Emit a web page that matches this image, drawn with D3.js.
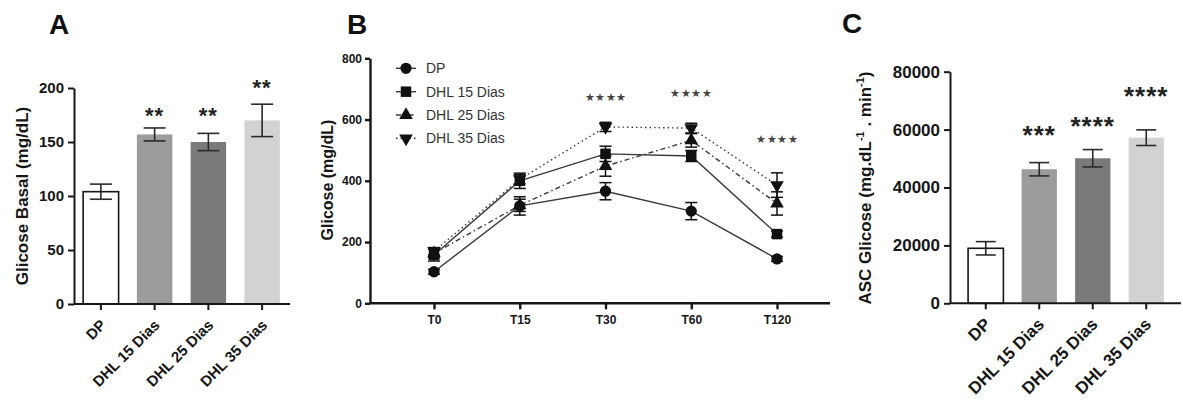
<!DOCTYPE html>
<html><head><meta charset="utf-8">
<script src="https://cdn.jsdelivr.net/npm/d3@7"></script>
<style>body{margin:0;background:#fff} svg{display:block} text{font-family:"Liberation Sans",Arial,sans-serif}</style>
</head><body><svg id="c" width="1183" height="403"></svg>
<script>
// ---------- data ----------
const groups = ["DP", "DHL 15 Dias", "DHL 25 Dias", "DHL 35 Dias"];
const basalMean = [104, 157, 150, 170];
const basalErr = [7, 6, 8, 15];
const basalStars = ["", "**", "**", "**"];
const basalStarLevel = [null, 180, 180, 206];
const basalTicks = [0, 50, 100, 150, 200];

const timePoints = ["T0", "T15", "T30", "T60", "T120"];
const dpCurve = [103, 318, 366, 301, 145];
const dpCurveErr = [8, 30, 28, 28, 8];
const dhl15Curve = [158, 400, 488, 481, 226];
const dhl15CurveErr = [20, 25, 25, 18, 10];
const dhl25Curve = [163, 320, 448, 532, 326];
const dhl25CurveErr = [15, 20, 33, 22, 38];
const dhl35Curve = [170, 405, 576, 572, 386];
const dhl35CurveErr = [12, 15, 15, 16, 40];
const curveStars = ["", "", "★★★★", "★★★★", "★★★★"];
const curveStarLevel = [null, null, 673, 686, 535];
const curveTicks = [0, 200, 400, 600, 800];

const aucMean = [19000, 46300, 50100, 57200];
const aucErr = [2300, 2300, 3000, 2700];
const aucStars = ["", "***", "****", "****"];
const aucStarLevel = [null, 60500, 63500, 73900];
const aucTicks = [0, 20000, 40000, 60000, 80000];

const barColors = ["#ffffff", "#9c9c9c", "#7a7a7a", "#d2d2d2"];

// ---------- helpers ----------
const svg = d3.select("#c");
const INK = "#161616";

function styleAxis(g, fs, sw) {
  g.selectAll("path.domain").attr("stroke", INK).attr("stroke-width", sw);
  g.selectAll(".tick line").attr("stroke", INK).attr("stroke-width", sw);
  g.selectAll(".tick text").attr("fill", INK).attr("font-size", fs)
    .attr("font-weight", "bold").attr("font-family", '"Liberation Sans",Arial,sans-serif');
}

function barPanel(opt) {
  const x = d3.scaleBand().domain(groups).range(opt.xr).paddingInner(0.34).paddingOuter(0.17);
  const y = d3.scaleLinear().domain([0, opt.ticks[opt.ticks.length - 1]]).range(opt.yr);
  const g = svg.append("g");
  g.selectAll("rect.bar").data(groups).join("rect")
    .attr("x", d => x(d)).attr("width", x.bandwidth())
    .attr("y", (d, i) => y(opt.mean[i])).attr("height", (d, i) => y(0) - y(opt.mean[i]))
    .attr("fill", (d, i) => barColors[i])
    .attr("stroke", (d, i) => i === 0 ? INK : "none").attr("stroke-width", 1.6);
  const cx = d => x(d) + x.bandwidth() / 2;
  groups.forEach((d, i) => {
    const lo = y(opt.mean[i] - opt.err[i]), hi = y(opt.mean[i] + opt.err[i]);
    g.append("line").attr("x1", cx(d)).attr("x2", cx(d)).attr("y1", lo).attr("y2", hi)
      .attr("stroke", "#2a2a2a").attr("stroke-width", 1.6);
    [lo, hi].forEach(v => g.append("line").attr("x1", cx(d) - opt.cap).attr("x2", cx(d) + opt.cap)
      .attr("y1", v).attr("y2", v).attr("stroke", "#2a2a2a").attr("stroke-width", 1.6));
    if (opt.stars[i]) {
      g.append("text").attr("x", cx(d)).attr("y", y(opt.starLevel[i]) + opt.starFs * 0.6)
        .attr("text-anchor", "middle").attr("font-size", opt.starFs).attr("font-weight", "bold")
        .attr("letter-spacing", opt.starLs).attr("fill", "#222").text(opt.stars[i]);
    }
  });
  const ya = g.append("g").attr("class", "yaxis").attr("transform", `translate(${opt.yAxisX},0)`)
    .call(d3.axisLeft(y).tickValues(opt.ticks).tickSize(6).tickSizeOuter(0).tickPadding(4)
      .tickFormat(d3.format("d")));
  styleAxis(ya, opt.tickFs, 2);
  const xa = g.append("g").attr("transform", `translate(0,${opt.yr[0]})`)
    .call(d3.axisBottom(x).tickSize(6).tickSizeOuter(0));
  styleAxis(xa, opt.labFs, 2);
  xa.select("path.domain").attr("d", `M${opt.yAxisX},0H${opt.xEnd}`);
  xa.selectAll(".tick text").attr("text-anchor", "end").attr("dy", null).attr("y", null)
    .attr("transform", `translate(${opt.labDx},${opt.labDy}) rotate(-45)`);
  return g;
}

// ---------- Panel A ----------
const gA = barPanel({
  xr: [74, 289], yAxisX: 74, xEnd: 290, yr: [304, 88], ticks: basalTicks, mean: basalMean, err: basalErr,
  stars: basalStars, starLevel: basalStarLevel, starFs: 22, starLs: 1, cap: 11,
  tickFs: 15, labFs: 15, labDx: 6, labDy: 22
});
gA.append("text").attr("transform", "translate(28,196) rotate(-90)").attr("text-anchor", "middle")
  .attr("font-size", 17).attr("font-weight", "bold").attr("fill", INK).text("Glicose Basal (mg/dL)");
svg.append("text").attr("x", 49).attr("y", 34).attr("font-size", 28).attr("font-weight", "bold")
  .attr("fill", "#111").text("A");

// ---------- Panel C ----------
const gC = barPanel({
  xr: [959, 1173], yAxisX: 950, xEnd: 1181, yr: [303.3, 71.7], ticks: aucTicks, mean: aucMean, err: aucErr,
  stars: aucStars, starLevel: aucStarLevel, starFs: 26, starLs: 1, cap: 10,
  tickFs: 17, labFs: 17, labDx: 6, labDy: 22
});
gC.append("text").attr("transform", "translate(871,188) rotate(-90)").attr("text-anchor", "middle")
  .attr("font-size", 17).attr("font-weight", "bold").attr("fill", INK)
  .call(t => {
    t.append("tspan").text("ASC Glicose (mg.dL");
    t.append("tspan").attr("font-size", 11).attr("dy", -7).text("-1");
    t.append("tspan").attr("dy", 7).text(" . min");
    t.append("tspan").attr("font-size", 11).attr("dy", -7).text("-1");
    t.append("tspan").attr("dy", 7).text(")");
  });
svg.append("text").attr("x", 842).attr("y", 33).attr("font-size", 28).attr("font-weight", "bold")
  .attr("fill", "#111").text("C");

// ---------- Panel B ----------
const series = [
  { name: "DP", v: dpCurve, e: dpCurveErr, sym: d3.symbolCircle, size: 100, rot: 0, dash: null },
  { name: "DHL 15 Dias", v: dhl15Curve, e: dhl15CurveErr, sym: d3.symbolSquare, size: 110, rot: 0, dash: null },
  { name: "DHL 25 Dias", v: dhl25Curve, e: dhl25CurveErr, sym: d3.symbolTriangle, size: 80, rot: 0, dash: "5,3,1.5,3" },
  { name: "DHL 35 Dias", v: dhl35Curve, e: dhl35CurveErr, sym: d3.symbolTriangle, size: 80, rot: 180, dash: "1.5,3" }
];
const xB = d3.scalePoint().domain(timePoints).range([434, 777]);
const yB = d3.scaleLinear().domain([0, 800]).range([303.3, 58.3]);
const gB = svg.append("g");
const lineGen = d3.line().x((d, i) => xB(timePoints[i])).y(d => yB(d));
series.forEach(s => {
  gB.append("path").attr("d", lineGen(s.v)).attr("fill", "none").attr("stroke", "#3a3a3a")
    .attr("stroke-width", 1.4).attr("stroke-dasharray", s.dash);
});
series.forEach(s => {
  s.v.forEach((v, i) => {
    const cx = xB(timePoints[i]), lo = yB(v - s.e[i]), hi = yB(v + s.e[i]);
    gB.append("line").attr("x1", cx).attr("x2", cx).attr("y1", lo).attr("y2", hi)
      .attr("stroke", "#111").attr("stroke-width", 1.5);
    [lo, hi].forEach(yy => gB.append("line").attr("x1", cx - 6).attr("x2", cx + 6)
      .attr("y1", yy).attr("y2", yy).attr("stroke", "#111").attr("stroke-width", 1.5));
  });
});
series.forEach(s => {
  const sym = d3.symbol().type(s.sym).size(s.size);
  s.v.forEach((v, i) => {
    gB.append("path").attr("d", sym())
      .attr("transform", `translate(${xB(timePoints[i])},${yB(v)}) rotate(${s.rot})`)
      .attr("fill", "#111");
  });
});
timePoints.forEach((t, i) => {
  if (curveStars[i]) {
    gB.append("text").attr("x", xB(t)).attr("y", yB(curveStarLevel[i]) + 4)
      .attr("text-anchor", "middle").attr("font-size", 10.5).attr("letter-spacing", 0.5)
      .attr("font-family", '"DejaVu Sans",sans-serif')
      .attr("fill", "#444").text(curveStars[i]);
  }
});
const yaB = gB.append("g").attr("transform", "translate(370,0)")
  .call(d3.axisLeft(yB).tickValues(curveTicks).tickSize(5).tickSizeOuter(0).tickPadding(3));
styleAxis(yaB, 12, 2.4);
const xaB = gB.append("g").attr("transform", "translate(0,303.3)")
  .call(d3.axisBottom(xB).tickSize(6).tickSizeOuter(0).tickPadding(6));
styleAxis(xaB, 12, 2.4);
xaB.select("path.domain").attr("d", "M370,0H830");
gB.append("text").attr("transform", "translate(333,180) rotate(-90)").attr("text-anchor", "middle")
  .attr("font-size", 16).attr("font-weight", "bold").attr("fill", INK).text("Glicose (mg/dL)");
const legY = [68.3, 91.7, 115, 138.3];
series.forEach((s, i) => {
  gB.append("line").attr("x1", 396).attr("x2", 416).attr("y1", legY[i]).attr("y2", legY[i])
    .attr("stroke", "#3a3a3a").attr("stroke-width", 1.4).attr("stroke-dasharray", s.dash);
  gB.append("path").attr("d", d3.symbol().type(s.sym).size(s.size)())
    .attr("transform", `translate(406,${legY[i]}) rotate(${s.rot})`).attr("fill", "#111");
  gB.append("text").attr("x", 426).attr("y", legY[i] + 5).attr("font-size", 14)
    .attr("fill", "#333").text(s.name);
});
svg.append("text").attr("x", 347).attr("y", 34).attr("font-size", 28).attr("font-weight", "bold")
  .attr("fill", "#111").text("B");
</script></body></html>
